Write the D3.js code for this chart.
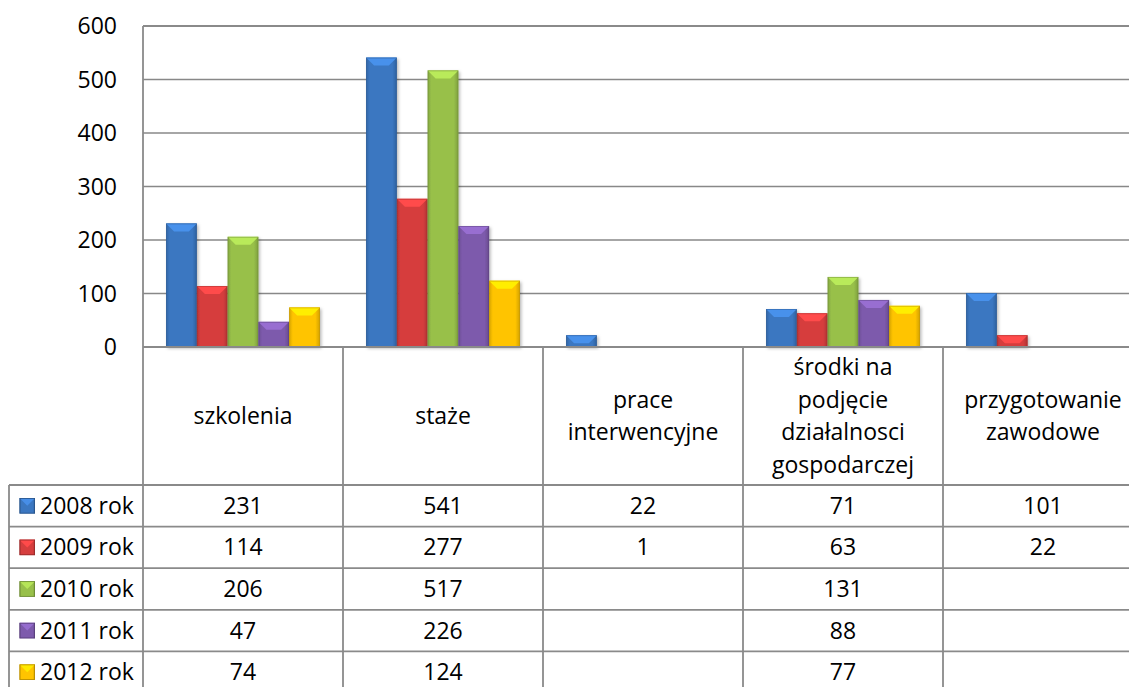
<!DOCTYPE html>
<html><head><meta charset="utf-8">
<script src="https://cdn.jsdelivr.net/npm/d3@7"></script>
<style>
html,body{margin:0;padding:0;background:#fff;}
svg{display:block;font-family:"Open Sans",sans-serif;}
</style></head>
<body>
<svg id="chart" width="1129" height="687"></svg>
<script>
const categories = [["szkolenia"],["staże"],["prace","interwencyjne"],["środki na","podjęcie","działalnosci","gospodarczej"],["przygotowanie","zawodowe"]];
const seriesNames = ["2008 rok","2009 rok","2010 rok","2011 rok","2012 rok"];
const s2008 = [231, 541, 22, 71, 101];
const s2009 = [114, 277, 1, 63, 22];
const s2010 = [206, 517, null, 131, null];
const s2011 = [47, 226, null, 88, null];
const s2012 = [74, 124, null, 77, null];
const seriesValues = [s2008, s2009, s2010, s2011, s2012];
const yTicks = [0, 100, 200, 300, 400, 500, 600];
const colors = ["#3b77c1","#d63e3e","#98c04a","#7d5aac","#ffc400"];

const svg = d3.select("#chart");
const W = 1129, H = 687;
const plotL = 143, plotR = 1143, plotT = 26, plotB = 347;
const tableL = 9, headerB = 485, rowH = 41.6;
const FS = 23;

const catIdx = categories.map((c,i)=>i);
const x0 = d3.scaleBand().domain(catIdx).range([plotL, plotR]).padding(0);
const x1 = d3.scaleBand().domain(seriesNames).range([0, x0.bandwidth()]).paddingInner(0).paddingOuter(0.75);
const y = d3.scaleLinear().domain([0, 600]).range([plotB, plotT]);

const defs = svg.append("defs");
const f = defs.append("filter").attr("id","shadow").attr("x","-20%").attr("y","-20%").attr("width","150%").attr("height","150%");
f.append("feDropShadow").attr("dx",1.5).attr("dy",1.5).attr("stdDeviation",1.8).attr("flood-color","#000").attr("flood-opacity",0.28);
colors.forEach((c,i)=>{
  const g = defs.append("linearGradient").attr("id","g"+i).attr("x1","0").attr("x2","1").attr("y1","0").attr("y2","0");
  const base = d3.color(c);
  g.append("stop").attr("offset","0").attr("stop-color", base.darker(0.45));
  g.append("stop").attr("offset","0.12").attr("stop-color", base);
  g.append("stop").attr("offset","0.85").attr("stop-color", base);
  g.append("stop").attr("offset","1").attr("stop-color", base.darker(0.55));
});

// gridlines
svg.append("g").selectAll("line").data(yTicks.filter(t=>t>0)).join("line")
  .attr("x1", plotL).attr("x2", W).attr("y1", d=>y(d)).attr("y2", d=>y(d))
  .attr("stroke","#888").attr("stroke-width",1.6);

// y labels
svg.append("g").selectAll("text").data(yTicks).join("text")
  .attr("x", 117).attr("y", d=>y(d)).attr("dy","0.35em")
  .attr("text-anchor","end").attr("font-size",FS).attr("fill","#000").text(d=>d);

// bars
const barG = svg.append("g");
seriesValues.forEach((vals, si)=>{
  const base = d3.color(colors[si]);
  vals.forEach((v, ci)=>{
    if (v == null) return;
    const bx = x0(ci) + x1(seriesNames[si]);
    const bw = x1.bandwidth();
    const by = y(v), bh = y(0) - y(v);
    const g = barG.append("g");
    g.append("rect").attr("x",bx).attr("y",by).attr("width",bw).attr("height",bh)
      .attr("fill","url(#g"+si+")").attr("filter","url(#shadow)");
    const b = Math.min(8, bh);
    if (b > 0.5) {
      g.append("path").attr("d", `M${bx},${by}L${bx+bw},${by}L${bx+bw-b},${by+b}L${bx+b},${by+b}Z`)
        .attr("fill", base.brighter(0.55));
    }
    g.append("rect").attr("x",bx+0.5).attr("y",by+0.5).attr("width",Math.max(0,bw-1)).attr("height",Math.max(0,bh-1))
      .attr("fill","none").attr("stroke", base.darker(0.8)).attr("stroke-width",0.8).attr("stroke-opacity",0.6);
  });
});

// plot left border and axis/table lines
const lineC = "#8a8a8a", lw = 1.8;
const tl = svg.append("g").attr("stroke",lineC).attr("stroke-width",lw);
tl.append("line").attr("x1",plotL).attr("x2",plotL).attr("y1",plotT).attr("y2",H);
tl.append("line").attr("x1",plotL).attr("x2",W).attr("y1",plotT).attr("y2",plotT);
tl.append("line").attr("x1",plotL).attr("x2",W).attr("y1",plotB).attr("y2",plotB);
// category vertical separators
tl.selectAll("line.v").data(catIdx.slice(1)).join("line").attr("class","v")
  .attr("x1",d=>x0(d)).attr("x2",d=>x0(d)).attr("y1",plotB).attr("y2",H);
// row lines
const rowYs = seriesNames.map((s,i)=>headerB + i*rowH);
tl.selectAll("line.h").data(rowYs).join("line").attr("class","h")
  .attr("x1",tableL).attr("x2",W).attr("y1",d=>d).attr("y2",d=>d);
tl.append("line").attr("x1",tableL).attr("x2",tableL).attr("y1",headerB).attr("y2",H);

// category header labels
const lineH = 32.5;
const hdr = svg.append("g");
categories.forEach((lines, ci)=>{
  const cx = x0(ci) + x0.bandwidth()/2;
  const cy = (plotB + headerB)/2;
  const t = hdr.append("text").attr("text-anchor","middle").attr("font-size",FS).attr("fill","#000");
  lines.forEach((ln, li)=>{
    t.append("tspan").attr("x",cx).attr("y", cy + (li - (lines.length-1)/2)*lineH).attr("dy","0.35em").text(ln);
  });
});

// legend keys + series names + values
const rows = svg.append("g");
seriesNames.forEach((name, si)=>{
  const cy = headerB + si*rowH + rowH/2;
  const base = d3.color(colors[si]);
  const k = 15.5, kx = 19.5, ky = cy - k/2;
  rows.append("rect").attr("x",kx).attr("y",ky).attr("width",k).attr("height",k).attr("fill","url(#g"+si+")");
  rows.append("path").attr("d",`M${kx},${ky}L${kx+k},${ky}L${kx+k/2},${ky+k/2}Z`).attr("fill",base.brighter(0.5));
  rows.append("rect").attr("x",kx+0.4).attr("y",ky+0.4).attr("width",k-0.8).attr("height",k-0.8)
    .attr("fill","none").attr("stroke",base.darker(1)).attr("stroke-width",0.8);
  rows.append("text").attr("x",40).attr("y",cy).attr("dy","0.35em").attr("font-size",FS).attr("fill","#000").text(name);
  seriesValues[si].forEach((v, ci)=>{
    if (v == null) return;
    rows.append("text").attr("x", x0(ci)+x0.bandwidth()/2).attr("y",cy).attr("dy","0.35em")
      .attr("text-anchor","middle").attr("font-size",FS).attr("fill","#000").text(v);
  });
});
</script>
</body></html>
